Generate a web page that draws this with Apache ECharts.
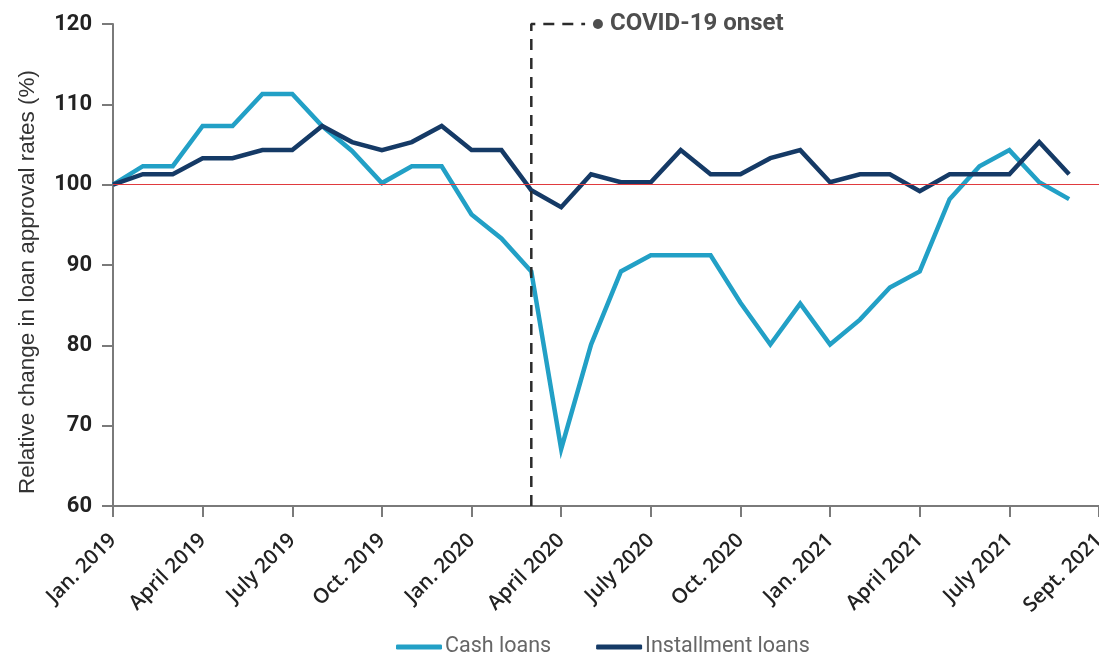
<!DOCTYPE html>
<html>
<head>
<meta charset="utf-8">
<script src="https://cdn.jsdelivr.net/npm/echarts@6/dist/echarts.min.js"></script>
<style>
html,body{margin:0;padding:0;background:#fff;}
#chart{width:1099px;height:653px;}
</style>
</head>
<body>
<div id="chart"></div>
<script>
// Months Jan. 2019 .. Sept. 2021 (index 0..32)
const months = ["2019-01","2019-02","2019-03","2019-04","2019-05","2019-06","2019-07","2019-08","2019-09","2019-10","2019-11","2019-12",
  "2020-01","2020-02","2020-03","2020-04","2020-05","2020-06","2020-07","2020-08","2020-09","2020-10","2020-11","2020-12",
  "2021-01","2021-02","2021-03","2021-04","2021-05","2021-06","2021-07","2021-08","2021-09"];
const cashLoans = [100,102.3,102.3,107.3,107.3,111.3,111.3,107.3,104.2,100.2,102.3,102.3,
  96.3,93.3,89.2,67.1,80.1,89.2,91.2,91.2,91.2,85.3,80.1,85.2,
  80.1,83.2,87.2,89.2,98.2,102.3,104.3,100.3,98.2];
const installmentLoans = [100,101.3,101.3,103.3,103.3,104.3,104.3,107.3,105.3,104.3,105.3,107.3,
  104.3,104.3,99.3,97.2,101.3,100.3,100.3,104.3,101.3,101.3,103.3,104.3,
  100.3,101.3,101.3,99.2,101.3,101.3,101.3,105.3,101.3];
const tickLabels = ["Jan. 2019","April 2019","July 2019","Oct. 2019","Jan. 2020","April 2020","July 2020","Oct. 2020","Jan. 2021","April 2021","July 2021","Sept. 2021"];
const baseline = 100;
const onsetIndex = months.indexOf("2020-03");
const onsetLabel = "COVID-19 onset";

const yMin = 60, yMax = 120;
const toPairs = arr => arr.map((v, i) => [i, v]);

const chart = echarts.init(document.getElementById('chart'));
chart.setOption({
  animation: false,
  backgroundColor: '#ffffff',
  grid: { left: 113, right: 0, top: 24, bottom: 147, outerBoundsMode: 'none', containLabel: false },
  legend: {
    top: 631, left: 391,
    itemWidth: 46, itemHeight: 5, itemGap: 45,
    icon: 'roundRect',
    textStyle: { fontFamily: 'Roboto', fontSize: 21.5, color: '#666', padding: [0,0,0,-2] },
    data: ['Cash loans', 'Installment loans']
  },
  xAxis: {
    type: 'value', min: 0, max: 33, interval: 3,
    splitLine: { show: false },
    axisLine: { show: true, lineStyle: { color: '#7a7a7a', width: 2 } },
    axisTick: { show: true, length: 11, lineStyle: { color: '#7a7a7a', width: 2 } },
    axisLabel: {
      rotate: 45, margin: 31,
      fontFamily: 'Open Sans', fontWeight: 600, fontSize: 20.5, color: '#222',
      formatter: v => tickLabels[Math.round(v / 3)] || ''
    }
  },
  yAxis: {
    type: 'value', min: yMin, max: yMax, interval: 10,
    name: 'Relative change in loan approval rates (%)',
    nameLocation: 'middle', nameGap: 74,
    nameTextStyle: { fontFamily: 'Liberation Sans', fontSize: 22.5, color: '#333', padding: [0, 34, 0, 0] },
    splitLine: { show: false },
    axisLine: { show: true, lineStyle: { color: '#7a7a7a', width: 2 } },
    axisTick: { show: true, length: 11, lineStyle: { color: '#7a7a7a', width: 2 } },
    axisLabel: { margin: 21, fontFamily: 'Roboto', fontWeight: 'bold', fontSize: 22, color: '#222' }
  },
  series: [
    {
      name: 'Cash loans', type: 'line', data: toPairs(cashLoans),
      symbol: 'none', z: 3,
      lineStyle: { color: '#22a0c6', width: 4.5, join: 'miter' },
      itemStyle: { color: '#22a0c6' },
      markLine: {
        silent: true, symbol: 'none', animation: false,
        label: { show: false },
        lineStyle: { color: '#e03a3e', width: 1, type: 'solid' },
        data: [[{ coord: [0, baseline] }, { coord: [33, baseline] }]]
      }
    },
    {
      name: 'Installment loans', type: 'line', data: toPairs(installmentLoans),
      symbol: 'none', z: 4,
      lineStyle: { color: '#153a66', width: 4.5, join: 'miter' },
      itemStyle: { color: '#153a66' }
    },
    {
      name: 'onset', type: 'line', silent: true, symbol: 'none', clip: false, z: 5,
      data: [[onsetIndex, yMin], [onsetIndex, yMax], [onsetIndex + 1.8, yMax]],
      lineStyle: { color: '#2b2b2b', width: 2.5, type: [11, 8] }
    },
    {
      name: 'onsetDot', type: 'scatter', silent: true, clip: false, z: 6,
      data: [[onsetIndex + 2.23, yMax]],
      symbolSize: 10,
      itemStyle: { color: '#222' },
      label: {
        show: true, position: 'right', distance: 7,
        formatter: onsetLabel,
        fontFamily: 'Roboto', fontWeight: 'bold', fontSize: 24, color: '#222'
      }
    }
  ]
});
</script>
</body>
</html>
